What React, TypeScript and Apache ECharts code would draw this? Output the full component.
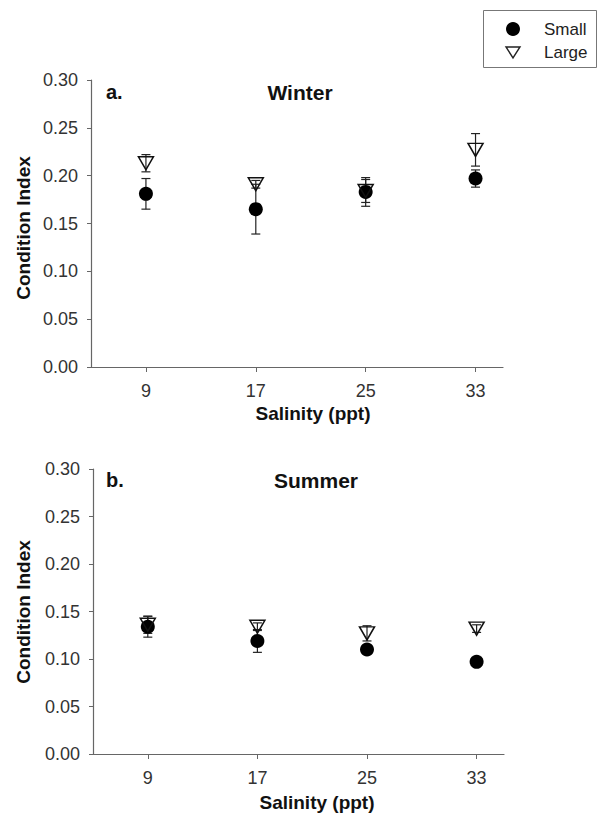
import React, { useEffect, useRef } from "react";
import * as echarts from "echarts";

// Data
const salinity = [9, 17, 25, 33];
const salinityTicks = [9, 17, 25, 33];
const yTicksLabelDigits = 2;

const winterSmall = [0.181, 0.165, 0.183, 0.197];
const winterSmallSE = [0.016, 0.026, 0.015, 0.009];
const winterLarge = [0.213, 0.191, 0.184, 0.227];
const winterLargeSE = [0.009, 0.004, 0.012, 0.017];

const summerSmall = [0.134, 0.119, 0.110, 0.097];
const summerSmallSE = [0.011, 0.012, 0.004, 0.003];
const summerLarge = [0.136, 0.134, 0.127, 0.132];
const summerLargeSE = [0.009, 0.004, 0.008, 0.004];

const FONT = "'Liberation Sans', Arial, Helvetica, sans-serif";

function pts(vals: number[]) {
  return salinity.map((x, i) => [x, vals[i]]);
}
function errPts(vals: number[], se: number[]) {
  return salinity.map((x, i) => [x, vals[i], se[i]]);
}

const errorRender = (params: any, api: any) => {
  const x = api.value(0);
  const y = api.value(1);
  const se = api.value(2);
  const top = api.coord([x, y + se]);
  const bot = api.coord([x, y - se]);
  const cap = 4.5;
  const style = { stroke: "#222", lineWidth: 1.2 };
  return {
    type: "group",
    children: [
      { type: "line", shape: { x1: top[0], y1: top[1], x2: bot[0], y2: bot[1] }, style },
      { type: "line", shape: { x1: top[0] - cap, y1: top[1], x2: top[0] + cap, y2: top[1] }, style },
      { type: "line", shape: { x1: bot[0] - cap, y1: bot[1], x2: bot[0] + cap, y2: bot[1] }, style },
    ],
  };
};

function makeX(gridIndex: number) {
  return {
    type: "value",
    gridIndex,
    min: 5,
    max: 35,
    axisLine: { show: true, lineStyle: { color: "#666", width: 1.2 } },
    axisTick: { show: true, customValues: salinityTicks, length: 5, lineStyle: { color: "#666" } },
    axisLabel: {
      customValues: salinityTicks,
      margin: 15,
      fontSize: 18,
      color: "#333",
      fontFamily: FONT,
    },
    splitLine: { show: false },
  };
}

function makeY(gridIndex: number) {
  return {
    type: "value",
    gridIndex,
    min: 0,
    max: 0.3,
    interval: 0.05,
    axisLine: { show: true, lineStyle: { color: "#666", width: 1.2 } },
    axisTick: { show: true, length: 4, lineStyle: { color: "#666" } },
    axisLabel: {
      margin: 13,
      fontSize: 18,
      color: "#333",
      fontFamily: FONT,
      formatter: (v: number) => v.toFixed(yTicksLabelDigits),
    },
    splitLine: { show: false },
  };
}

function panelSeries(idx: number, small: number[], smallSE: number[], large: number[], largeSE: number[]) {
  return [
    {
      type: "custom",
      xAxisIndex: idx,
      yAxisIndex: idx,
      renderItem: errorRender,
      data: errPts(small, smallSE),
      encode: { x: 0, y: 1 },
      z: 1,
      silent: true,
    },
    {
      type: "custom",
      xAxisIndex: idx,
      yAxisIndex: idx,
      renderItem: errorRender,
      data: errPts(large, largeSE),
      encode: { x: 0, y: 1 },
      z: 1,
      silent: true,
    },
    {
      name: "Small",
      type: "scatter",
      xAxisIndex: idx,
      yAxisIndex: idx,
      symbol: "circle",
      symbolSize: 14,
      itemStyle: { color: "#000", opacity: 1 },
      data: pts(small),
      z: 2,
    },
    {
      name: "Large",
      type: "scatter",
      xAxisIndex: idx,
      yAxisIndex: idx,
      symbol: "triangle",
      symbolRotate: 180,
      symbolSize: [15, 13],
      itemStyle: { color: "rgba(0,0,0,0)", borderColor: "#111", borderWidth: 1.5, opacity: 1 },
      data: pts(large),
      z: 3,
    },
  ];
}

export default function App() {
  const ref = useRef<HTMLDivElement>(null);
  useEffect(() => {
    if (!ref.current) return;
    const chart = echarts.init(ref.current, undefined, { renderer: "svg" });
    const titleStyle = { fontFamily: FONT, fontWeight: "bold", fill: "#111" };
    chart.setOption({
      animation: false,
      backgroundColor: "#fff",
      grid: [
        { left: 91, top: 80, width: 412, height: 287 },
        { left: 93, top: 469, width: 411, height: 285 },
      ],
      xAxis: [makeX(0), makeX(1)],
      yAxis: [makeY(0), makeY(1)],
      series: [
        ...panelSeries(0, winterSmall, winterSmallSE, winterLarge, winterLargeSE),
        ...panelSeries(1, summerSmall, summerSmallSE, summerLarge, summerLargeSE),
      ],
      graphic: [
        { type: "text", x: 106, y: 92, style: { ...titleStyle, text: "a.", fontSize: 20, textVerticalAlign: "middle" } },
        { type: "text", x: 300, y: 92, style: { ...titleStyle, text: "Winter", fontSize: 21, textAlign: "center", textVerticalAlign: "middle" } },
        { type: "text", x: 106, y: 480, style: { ...titleStyle, text: "b.", fontSize: 20, textVerticalAlign: "middle" } },
        { type: "text", x: 316, y: 480, style: { ...titleStyle, text: "Summer", fontSize: 21, textAlign: "center", textVerticalAlign: "middle" } },
        { type: "text", x: 313, y: 413, style: { ...titleStyle, text: "Salinity (ppt)", fontSize: 19, textAlign: "center", textVerticalAlign: "middle" } },
        { type: "text", x: 317, y: 802, style: { ...titleStyle, text: "Salinity (ppt)", fontSize: 19, textAlign: "center", textVerticalAlign: "middle" } },
        { type: "text", x: 23, y: 228, rotation: Math.PI / 2, style: { ...titleStyle, text: "Condition Index", fontSize: 19, textAlign: "center", textVerticalAlign: "middle" } },
        { type: "text", x: 23, y: 612, rotation: Math.PI / 2, style: { ...titleStyle, text: "Condition Index", fontSize: 19, textAlign: "center", textVerticalAlign: "middle" } },
        // legend
        { type: "rect", shape: { x: 483.5, y: 10.5, width: 113, height: 57 }, style: { fill: "#fff", stroke: "#777", lineWidth: 1 } },
        { type: "circle", shape: { cx: 513, cy: 29, r: 7 }, style: { fill: "#000" } },
        { type: "polygon", shape: { points: [[506, 47], [520, 47], [513, 58]] }, style: { fill: "none", stroke: "#222", lineWidth: 1.4 } },
        { type: "text", x: 544, y: 29, style: { text: "Small", fontFamily: FONT, fontSize: 17, fill: "#222", textVerticalAlign: "middle" } },
        { type: "text", x: 544, y: 52, style: { text: "Large", fontFamily: FONT, fontSize: 17, fill: "#222", textVerticalAlign: "middle" } },
      ],
    });
    return () => chart.dispose();
  }, []);
  return <div ref={ref} style={{ position: "fixed", left: 0, top: 0, width: 598, height: 815 }} />;
}
